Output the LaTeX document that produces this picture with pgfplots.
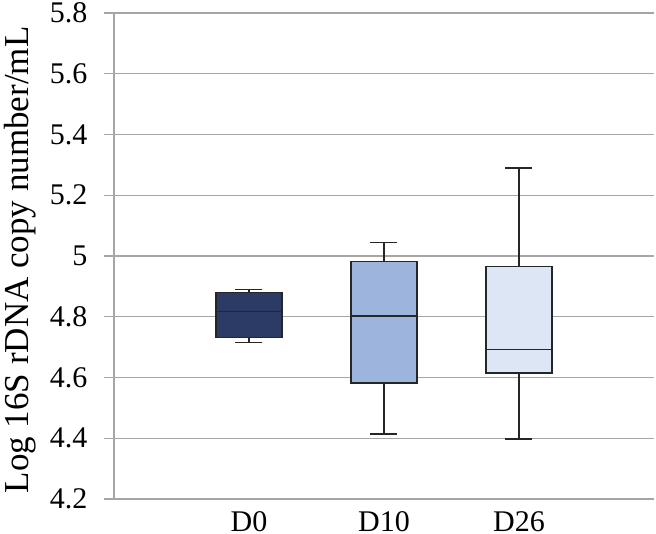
\documentclass[border=0pt]{standalone}
\usepackage{fontspec}
\setmainfont{Liberation Serif}
\usepackage{pgfplots}
\pgfplotsset{compat=1.18}
\usepgfplotslibrary{statistics}
\definecolor{gridgray}{HTML}{A6A6A6}
\definecolor{boxedge}{HTML}{262626}
\definecolor{cA}{HTML}{2B3B66}
\definecolor{cB}{HTML}{9DB4DD}
\definecolor{cC}{HTML}{DDE6F4}
\begin{document}
\begin{tikzpicture}
\begin{axis}[
  scale only axis,
  width=540pt, height=486pt,
  xmin=0, xmax=4, ymin=4.2, ymax=5.8,
  ytick={4.2,4.4,4.6,4.8,5,5.2,5.4,5.6,5.8},
  yticklabels={4.2,4.4,4.6,4.8,5,5.2,5.4,5.6,5.8},
  xtick={1,2,3}, xticklabels={D0,D10,D26},
  axis x line*=bottom, axis y line*=left,
  ymajorgrids, grid style={gridgray, line width=1.3pt},
  axis line style={gridgray, line width=1.3pt},
  y tick style={gridgray, line width=1.3pt},
  x tick style={draw=none},
  tick align=outside, major tick length=10pt,
  tick label style={font=\fontsize{30}{34}\selectfont},
  yticklabel style={xshift=-13pt},
  xticklabel style={inner sep=0pt, anchor=north, yshift=-2pt},
  ylabel={Log 16S rDNA copy number/mL},
  ylabel style={font=\fontsize{35}{40}\selectfont, at={(axis description cs:-0.174,0.492)}, anchor=center, rotate=0},
  boxplot/draw direction=y,
  boxplot/box extend=0.49,
  boxplot/whisker extend=0.2,
  cycle list={{draw=boxedge}},
]
\addplot+[boxplot prepared={draw position=1, lower whisker=4.716, lower quartile=4.732, median=4.817, upper quartile=4.879, upper whisker=4.890}, draw=boxedge, fill=cA, line width=1.5pt, solid] coordinates {};
\addplot+[boxplot prepared={draw position=2, lower whisker=4.414, lower quartile=4.582, median=4.802, upper quartile=4.982, upper whisker=5.045}, draw=boxedge, fill=cB, line width=1.5pt, solid] coordinates {};
\addplot+[boxplot prepared={draw position=3, lower whisker=4.398, lower quartile=4.614, median=4.692, upper quartile=4.965, upper whisker=5.289}, draw=boxedge, fill=cC, line width=1.5pt, solid] coordinates {};
\end{axis}
\pgfresetboundingbox
\path[use as bounding box] ([xshift=-114pt,yshift=-35pt]current axis.south west) rectangle ([xshift=2pt,yshift=13pt]current axis.north east);
\end{tikzpicture}
\end{document}
